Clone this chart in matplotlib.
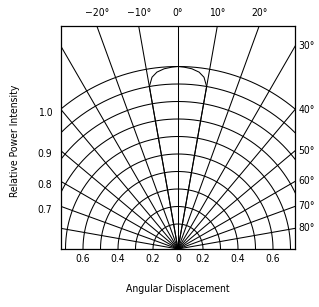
import numpy as np
import matplotlib
matplotlib.use("Agg")
import matplotlib.pyplot as plt
from matplotlib import font_manager

names = {f.name for f in font_manager.fontManager.ttflist}
FONT = "Liberation Sans Narrow" if "Liberation Sans Narrow" in names else "DejaVu Sans"
plt.rcParams['font.family'] = [FONT, 'DejaVu Sans']
plt.rcParams['font.stretch'] = 'condensed'

# ---- data ----
arc_values = [0.2, 0.3, 0.4, 0.5, 0.6, 0.7, 0.8, 0.9, 1.0, 1.1]
radial_angles = list(range(-90, 91, 10))
top_labels = ["\u221220\u00b0", "\u221210\u00b0", "0\u00b0", "10\u00b0", "20\u00b0"]
top_angles = [-20, -10, 0, 10, 20]
right_labels = ["30\u00b0", "40\u00b0", "50\u00b0", "60\u00b0", "70\u00b0", "80\u00b0"]
right_angles = [30, 40, 50, 60, 70, 80]
left_labels = ["1.0", "0.9", "0.8", "0.7"]
left_angles = [40, 50, 60, 70]
bottom_values = [0.6, 0.4, 0.2, 0, 0.2, 0.4, 0.6]
bottom_signs = [-1, -1, -1, 0, 1, 1, 1]
pattern_angles = [-10, -10, -8.6, -6.8, -4.4, -1.9, 0, 1.9, 4.4, 6.8, 8.6, 10, 10]
pattern_values = [0.0, 1.0, 1.05, 1.075, 1.09, 1.097, 1.1, 1.097, 1.09, 1.075, 1.05, 1.0, 0.0]

R_OFF = 10 / 175.0
def rad(v):
    return np.clip(np.asarray(v, float) - R_OFF, 0, None)

XL = 117 / 175.0
YT = 223 / 175.0

fig = plt.figure(figsize=(3.19, 3.07), dpi=100)
ax = fig.add_axes([61/319, 58/307, 234/319, 223/307])
ax.set_xlim(-XL, XL)
ax.set_ylim(0, YT)
for s in ax.spines.values():
    s.set_linewidth(0.9)
ax.set_xticks([]); ax.set_yticks([])

lw = 0.75
t = np.radians(np.linspace(-90, 90, 400))
for v in arc_values:
    r = rad(v)
    ax.plot(r*np.sin(t), r*np.cos(t), color='black', lw=lw)
for a in radial_angles:
    th = np.radians(a)
    ax.plot([0, 3*np.sin(th)], [0, 3*np.cos(th)], color='black', lw=lw)

pa = np.radians(pattern_angles)
pr = rad(pattern_values)
ax.plot(pr*np.sin(pa), pr*np.cos(pa), color='black', lw=lw)

fs = 7.5
for lab, a in zip(top_labels, top_angles):
    x = YT*np.tan(np.radians(a))
    ax.text(x, YT + 0.045, lab, ha='center', va='bottom', fontsize=fs, clip_on=False)
for lab, a in zip(right_labels, right_angles):
    y = XL/np.tan(np.radians(a))
    ax.text(XL + 0.02, y, lab, ha='left', va='center', fontsize=fs, clip_on=False)
for lab, a in zip(left_labels, left_angles):
    y = XL/np.tan(np.radians(a))
    ax.text(-XL - 0.05, y - 0.02, lab, ha='right', va='center', fontsize=fs, clip_on=False)
for v, sg in zip(bottom_values, bottom_signs):
    x = sg*rad(v) if sg != 0 else 0
    ax.text(x, -0.03, f"{v:g}" if v else "0", ha='center', va='top', fontsize=fs, clip_on=False)

fig.text(178/319, 1 - 289/307, "Angular Displacement", ha='center', va='center', fontsize=fs)
fig.text(15/319, 1 - 141/307, "Relative Power Intensity", ha='center', va='center',
         rotation=90, fontsize=fs)

fig.savefig("out.png", dpi=100)
